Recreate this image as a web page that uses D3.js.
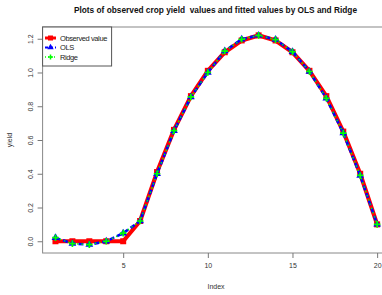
<!DOCTYPE html>
<html>
<head>
<meta charset="utf-8">
<script src="https://cdn.jsdelivr.net/npm/d3@7"></script>
<style>
  body { margin: 0; background: #fff; }
  svg { font-family: "Liberation Sans", Arial, sans-serif; }
</style>
</head>
<body>
<div id="chart"></div>
<script>
// data
const index = d3.range(1, 21);
const observed = [0, 0, 0, 0, 0, 0.12, 0.41, 0.66, 0.86, 1.01, 1.12, 1.19, 1.22, 1.19, 1.12, 1.01, 0.86, 0.65, 0.40, 0.10];
const ols =      [0.021, -0.014, -0.02, 0.0, 0.048, 0.12, 0.40, 0.655, 0.855, 1.0, 1.127, 1.197, 1.22, 1.195, 1.123, 1.006, 0.847, 0.641, 0.39, 0.10];
const ridge =    [0.021, -0.014, -0.02, 0.0, 0.048, 0.12, 0.40, 0.655, 0.855, 1.0, 1.127, 1.197, 1.22, 1.195, 1.123, 1.006, 0.847, 0.641, 0.39, 0.10];
const xTicks = [5, 10, 15, 20];
const yTicks = [0, 0.2, 0.4, 0.6, 0.8, 1.0, 1.2];
const legendLabels = ["Observed value", "OLS", "Ridge"];

const W = 382, H = 295;
const box = {left: 42.6, right: 390, top: 27, bottom: 253};

// R style 4% padding
function pad(ext) {
  const p = (ext[1] - ext[0]) * 0.04;
  return [ext[0] - p, ext[1] + p];
}

const x = d3.scaleLinear().domain(pad(d3.extent(index))).range([box.left, box.right]);
const y = d3.scaleLinear()
  .domain(pad(d3.extent(observed.concat(ols, ridge))))
  .range([box.bottom, box.top]);

const svg = d3.select("#chart").append("svg")
  .attr("width", W).attr("height", H);

// title
svg.append("text")
  .attr("x", 215.5)
  .attr("y", 13)
  .attr("text-anchor", "middle")
  .style("font-size", "8.3px")
  .style("font-weight", "bold")
  .style("white-space", "pre")
  .attr("fill", "#111")
  .text("Plots of observed crop yield  values and fitted values by OLS and Ridge");

// box
svg.append("rect")
  .attr("x", box.left).attr("y", box.top)
  .attr("width", box.right - box.left).attr("height", box.bottom - box.top)
  .attr("fill", "none").attr("stroke", "#888").attr("stroke-width", 1);

// x axis
const xAxis = svg.append("g")
  .attr("transform", `translate(0,${box.bottom})`)
  .call(d3.axisBottom(x).tickValues(xTicks).tickSize(5).tickPadding(5).tickFormat(d3.format("d")));
xAxis.select(".domain").remove();
xAxis.selectAll("line").attr("stroke", "#777");
xAxis.selectAll("text").style("font-size", "7px").attr("fill", "#333").style("font-family", "Liberation Sans, Arial");

// y axis
const yAxis = svg.append("g")
  .attr("transform", `translate(${box.left},0)`)
  .call(d3.axisLeft(y).tickValues(yTicks).tickSize(5).tickFormat(d3.format(".1f")));
yAxis.select(".domain").remove();
yAxis.selectAll("line").attr("stroke", "#777");
yAxis.selectAll("text")
  .style("font-size", "7px").attr("fill", "#333")
  .style("font-family", "Liberation Sans, Arial")
  .attr("x", null).attr("dy", null)
  .attr("text-anchor", "middle")
  .attr("transform", "translate(-12,0) rotate(-90)")
  .attr("y", 0).attr("dy", "0.35em");

// axis labels
svg.append("text")
  .attr("x", 216).attr("y", 289)
  .attr("text-anchor", "middle")
  .style("font-size", "7px").attr("fill", "#333")
  .text("Index");
svg.append("text")
  .attr("transform", `translate(12,${(box.top + box.bottom) / 2}) rotate(-90)`)
  .attr("text-anchor", "middle")
  .style("font-size", "7px").attr("fill", "#333")
  .text("yield");

const line = d3.line().x((d, i) => x(index[i])).y(d => y(d));

// observed: thick red with squares
svg.append("path").datum(observed)
  .attr("d", line).attr("fill", "none")
  .attr("stroke", "#f00").attr("stroke-width", 4.2).attr("stroke-linejoin", "round");
svg.selectAll(".obs").data(observed).join("rect")
  .attr("x", (d, i) => x(index[i]) - 3).attr("y", d => y(d) - 3)
  .attr("width", 6).attr("height", 6).attr("fill", "#f00");

// OLS: blue dashed with triangles
svg.append("path").datum(ols)
  .attr("d", line).attr("fill", "none")
  .attr("stroke", "#0000ff").attr("stroke-width", 2.6).attr("stroke-dasharray", "5,3");
const tri = d3.symbol().type(d3.symbolTriangle).size(26);
svg.selectAll(".olsPt").data(ols).join("path")
  .attr("d", tri)
  .attr("transform", (d, i) => `translate(${x(index[i])},${y(d)})`)
  .attr("fill", "#0000ff");

// Ridge: green dotted with plus
svg.append("path").datum(ridge)
  .attr("d", line).attr("fill", "none")
  .attr("stroke", "#00ff00").attr("stroke-width", 1.4).attr("stroke-dasharray", "1.5,3");
svg.selectAll(".ridgePt").data(ridge).join("path")
  .attr("d", "M-3.3,0H3.3M0,-3.3V3.3")
  .attr("transform", (d, i) => `translate(${x(index[i])},${y(d)})`)
  .attr("stroke", "#00ff00").attr("stroke-width", 1.7).attr("fill", "none");

// legend
const lg = svg.append("g");
lg.append("rect")
  .attr("x", box.left).attr("y", box.top)
  .attr("width", 69).attr("height", 39)
  .attr("fill", "#fff").attr("stroke", "#555").attr("stroke-width", 1);
const rowY = [38, 47.5, 57];
const lx0 = 45, lx1 = 56, lc = 50.5;
// observed row
lg.append("line").attr("x1", lx0).attr("x2", lx1).attr("y1", rowY[0]).attr("y2", rowY[0])
  .attr("stroke", "#f00").attr("stroke-width", 3);
lg.append("rect").attr("x", lc - 2.5).attr("y", rowY[0] - 2.5).attr("width", 5).attr("height", 5).attr("fill", "#f00");
// ols row
lg.append("line").attr("x1", lx0).attr("x2", lx1).attr("y1", rowY[1]).attr("y2", rowY[1])
  .attr("stroke", "#00f").attr("stroke-width", 2).attr("stroke-dasharray", "3,2");
lg.append("path").attr("d", d3.symbol().type(d3.symbolTriangle).size(18))
  .attr("transform", `translate(${lc},${rowY[1]})`).attr("fill", "#00f");
// ridge row
lg.append("line").attr("x1", lx0).attr("x2", lx1).attr("y1", rowY[2]).attr("y2", rowY[2])
  .attr("stroke", "#0f0").attr("stroke-width", 1.5).attr("stroke-dasharray", "1,2");
lg.append("path").attr("d", "M-2.5,0H2.5M0,-2.5V2.5")
  .attr("transform", `translate(${lc},${rowY[2]})`)
  .attr("stroke", "#0f0").attr("stroke-width", 1.5);
lg.selectAll(".lt").data(legendLabels).join("text")
  .attr("x", 60).attr("y", (d, i) => rowY[i]).attr("dy", "0.35em")
  .style("font-size", "7.5px").style("letter-spacing", "-0.4px").attr("fill", "#222")
  .text(d => d);
</script>
</body>
</html>
